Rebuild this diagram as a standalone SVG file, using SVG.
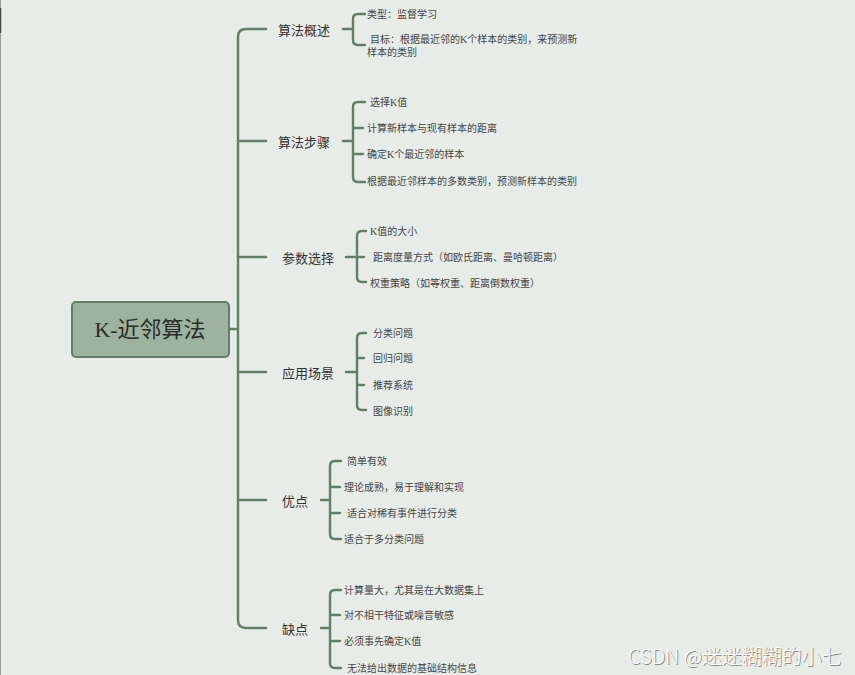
<svg xmlns="http://www.w3.org/2000/svg" width="855" height="675" viewBox="0 0 855 675">
<style>
.bg{fill:#e8ece8}
.ln{fill:none;stroke:#5f7f66;stroke-width:2.4;stroke-linecap:round;stroke-linejoin:round}
.l1{font-family:"Noto Sans CJK SC",sans-serif;font-size:13px;fill:#333;dominant-baseline:central}
.l2{font-family:"Liberation Serif","Noto Sans CJK SC",sans-serif;font-size:10px;fill:#444;dominant-baseline:central}
.root{font-family:"Liberation Serif","Noto Sans CJK SC",serif;font-size:22px;fill:#2b2b2b;dominant-baseline:central;text-anchor:middle}
.wm{font-family:"Noto Sans CJK SC",sans-serif;font-size:20px;font-weight:300;dominant-baseline:central}
</style>
<rect class="bg" x="0" y="0" width="855" height="675"/>
<line x1="0.5" y1="0" x2="0.5" y2="675" stroke="#9a9a9a" stroke-width="1"/>
<line x1="0.5" y1="8" x2="0.5" y2="33" stroke="#444" stroke-width="1.5"/>

<g id="connectors">
  <path class="ln" d="M229,329 H238"/>
  <path class="ln" d="M266,29 H246 Q238,29 238,37 V620 Q238,628 246,628 H266"/>
  <path class="ln" d="M238,141 H266 M238,257 H266 M238,372 H266 M238,500 H266"/>
  <path class="ln" d="M343,29 H353 M365,14 H358 Q353,14 353,19 V40 Q353,45 358,45 H365"/>
  <path class="ln" d="M343,141 H353 M365,102 H358 Q353,102 353,107 V177 Q353,182 358,182 H365 M353,128 H363 M353,154 H363"/>
  <path class="ln" d="M346,257 H364 M366,231 H362 Q357,231 357,236 V277 Q357,282 362,282 H366"/>
  <path class="ln" d="M346,372 H357 M366,333 H362 Q357,333 357,338 V405 Q357,410 362,410 H366 M357,358 H364 M357,385 H364"/>
  <path class="ln" d="M321,500 H330 M341,461 H335 Q330,461 330,466 V534 Q330,539 335,539 H341 M330,487 H340 M330,513 H340"/>
  <path class="ln" d="M321,628 H330 M341,590 H335 Q330,590 330,595 V663 Q330,668 335,668 H341 M330,615 H340 M330,641 H340"/>
</g>

<g id="root">
  <rect x="72" y="302" width="157" height="55" rx="4" fill="#9db3a0" stroke="#5f7f66" stroke-width="2"/>
  <text class="root" x="150" y="329">K-近邻算法</text>
</g>

<g id="n-overview">
  <text class="l1" x="278" y="29">算法概述</text>
  <text class="l2" x="367" y="14">类型：监督学习</text>
  <text class="l2" x="370" y="39">目标：根据最近邻的K个样本的类别，来预测新</text>
  <text class="l2" x="367" y="52">样本的类别</text>
</g>

<g id="n-steps">
  <text class="l1" x="278" y="141">算法步骤</text>
  <text class="l2" x="370" y="102">选择K值</text>
  <text class="l2" x="367" y="128">计算新样本与现有样本的距离</text>
  <text class="l2" x="367" y="154">确定K个最近邻的样本</text>
  <text class="l2" x="367" y="181">根据最近邻样本的多数类别，预测新样本的类别</text>
</g>

<g id="n-params">
  <text class="l1" x="282" y="257">参数选择</text>
  <text class="l2" x="370" y="231">K值的大小</text>
  <text class="l2" x="373" y="257">距离度量方式（如欧氏距离、曼哈顿距离）</text>
  <text class="l2" x="370" y="283">权重策略（如等权重、距离倒数权重）</text>
</g>

<g id="n-apps">
  <text class="l1" x="282" y="372">应用场景</text>
  <text class="l2" x="373" y="333">分类问题</text>
  <text class="l2" x="373" y="358">回归问题</text>
  <text class="l2" x="373" y="385">推荐系统</text>
  <text class="l2" x="373" y="411">图像识别</text>
</g>

<g id="n-pros">
  <text class="l1" x="282" y="500">优点</text>
  <text class="l2" x="347" y="461">简单有效</text>
  <text class="l2" x="344" y="487">理论成熟，易于理解和实现</text>
  <text class="l2" x="347" y="513">适合对稀有事件进行分类</text>
  <text class="l2" x="344" y="539">适合于多分类问题</text>
</g>

<g id="n-cons">
  <text class="l1" x="282" y="628">缺点</text>
  <text class="l2" x="344" y="590">计算量大，尤其是在大数据集上</text>
  <text class="l2" x="344" y="615">对不相干特征或噪音敏感</text>
  <text class="l2" x="344" y="641">必须事先确定K值</text>
  <text class="l2" x="347" y="668">无法给出数据的基础结构信息</text>
</g>

<g id="watermark">
  <text class="wm" x="629" y="656" fill="#8a8a8a">CSDN @迷迷糊糊的小七</text>
  <text class="wm" x="628" y="655" fill="#fafafa">CSDN @迷迷糊糊的小七</text>
</g>
</svg>
